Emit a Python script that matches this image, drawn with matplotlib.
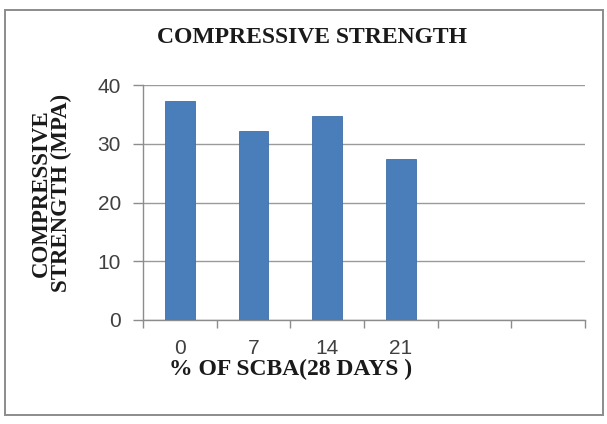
import matplotlib
matplotlib.use("Agg")
import matplotlib.pyplot as plt
from matplotlib.patches import Rectangle

# % SCBA replacement levels and 28-day compressive strength (MPa)
categories = ["0", "7", "14", "21", "", ""]
strength = [37.2, 32.1, 34.8, 27.4]
y_ticks = [0, 10, 20, 30, 40]

serif = ["Liberation Serif", "DejaVu Serif"]
sans = ["Liberation Sans", "DejaVu Sans"]

fig = plt.figure(figsize=(6.07, 4.24), dpi=100)
fig.patch.set_facecolor("white")

# outer chart border
fig.patches.append(
    Rectangle((0.009, 0.022), 0.984, 0.955, transform=fig.transFigure,
              facecolor="none", edgecolor="#8c8c8c", linewidth=1.4)
)

ax = fig.add_axes([0.2356, 0.2453, 0.728, 0.5542])
xs = list(range(len(categories)))
ax.bar(xs[:len(strength)], strength, width=0.4, color="#4a7ebb",
       edgecolor="#3f6fa8", linewidth=0.6, zorder=3)

ax.set_xlim(-0.5, len(categories) - 0.5)
ax.set_ylim(0, 40)
ax.set_yticks(y_ticks)
ax.set_yticklabels([str(v) for v in y_ticks], family=sans, fontsize=15,
                   color="#404040")
ax.grid(axis="y", color="#9a9a9a", linewidth=1.0, zorder=0)

ax.set_xticks(xs)
ax.set_xticklabels(categories, family=sans, fontsize=15, color="#404040")
ax.set_xticks([x - 0.5 for x in range(len(categories) + 1)], minor=True)
ax.tick_params(axis="x", which="major", length=0, pad=14)
ax.tick_params(axis="x", which="minor", length=6, color="#8c8c8c", width=1.0)
ax.tick_params(axis="y", length=7, color="#8c8c8c", width=1.0, pad=9)

for side in ["top", "right"]:
    ax.spines[side].set_visible(False)
for side in ["left", "bottom"]:
    ax.spines[side].set_color("#8c8c8c")
    ax.spines[side].set_linewidth(1.0)

fig.text(0.514, 0.912, "COMPRESSIVE STRENGTH", ha="center", va="center",
         family=serif, fontsize=17, fontweight="bold", color="#1a1a1a")
fig.text(0.085, 0.545, "COMPRESSIVE\nSTRENGTH (MPA)", ha="center", va="center",
         rotation=90, family=serif, fontsize=16.5, fontweight="bold",
         color="#1a1a1a", linespacing=0.95)
fig.text(0.478, 0.128, "% OF SCBA(28 DAYS )", ha="center", va="center",
         family=serif, fontsize=17, fontweight="bold", color="#1a1a1a")

fig.savefig("out.png", dpi=100)
